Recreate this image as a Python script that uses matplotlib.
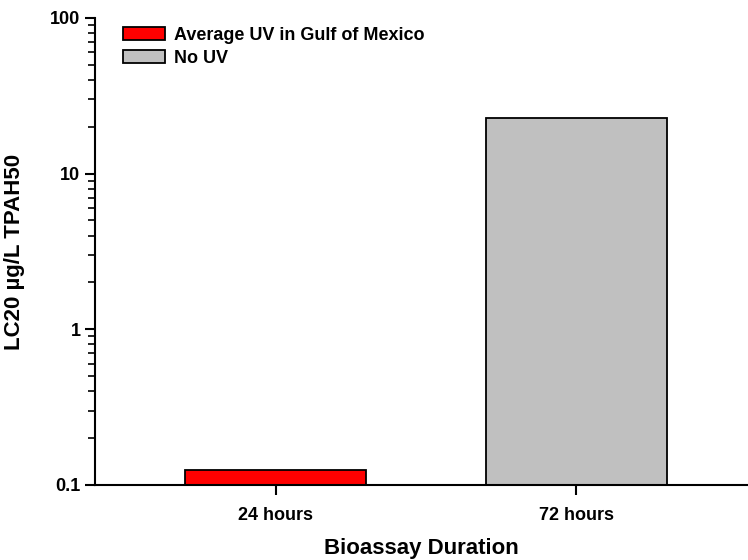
import matplotlib
matplotlib.use('Agg')
import matplotlib.pyplot as plt
from matplotlib.patches import Patch
import numpy as np

# data
durations = ['24 hours', '72 hours']
lc20_uv = [0.124, np.nan]
lc20_no_uv = [np.nan, 22.8]
series_names = ['Average UV in Gulf of Mexico', 'No UV']
series_colors = ['#ff0000', '#c0c0c0']

plt.rcParams['font.family'] = ['Liberation Sans', 'DejaVu Sans']
plt.rcParams['font.weight'] = 'bold'

fig = plt.figure(figsize=(7.48, 5.6), dpi=100)
ax = fig.add_axes([0.127, 0.134, 0.873, 0.834])

x = np.arange(len(durations))
ax.set_yscale('log')
ax.bar(x, lc20_uv, width=0.6, color=series_colors[0],
       edgecolor='black', linewidth=1.3)
ax.bar(x, lc20_no_uv, width=0.6, color=series_colors[1],
       edgecolor='black', linewidth=1.3)

ax.set_ylim(0.1, 100)
ax.set_xlim(-0.6, 1.57)
ax.set_yticks([0.1, 1, 10, 100])
ax.set_yticklabels(['0.1', '1', '10', '100'])
ax.set_xticks(x)
ax.set_xticklabels(durations)

ax.spines['top'].set_visible(False)
ax.spines['right'].set_visible(False)
ax.spines['left'].set_linewidth(1.5)
ax.spines['bottom'].set_linewidth(1.5)
ax.tick_params(axis='both', which='major', direction='out', length=7, width=1.5,
               labelsize=13)
ax.tick_params(axis='y', which='minor', direction='out', length=5, width=1.2)
ax.tick_params(axis='x', which='major', pad=9)

ax.set_xlabel('Bioassay Duration', fontsize=16, fontweight='bold', labelpad=10)
ax.set_ylabel('LC20 µg/L TPAH50', fontsize=16, fontweight='bold', labelpad=18)

handles = [Patch(facecolor=c, edgecolor='black', linewidth=1.3) for c in series_colors]
ax.legend(handles, series_names, loc='upper left', bbox_to_anchor=(0.018, 1.015),
          frameon=False, fontsize=13, handlelength=2.3, handleheight=0.75,
          handletextpad=0.55, labelspacing=0.3)

fig.savefig('out.png', dpi=100)
